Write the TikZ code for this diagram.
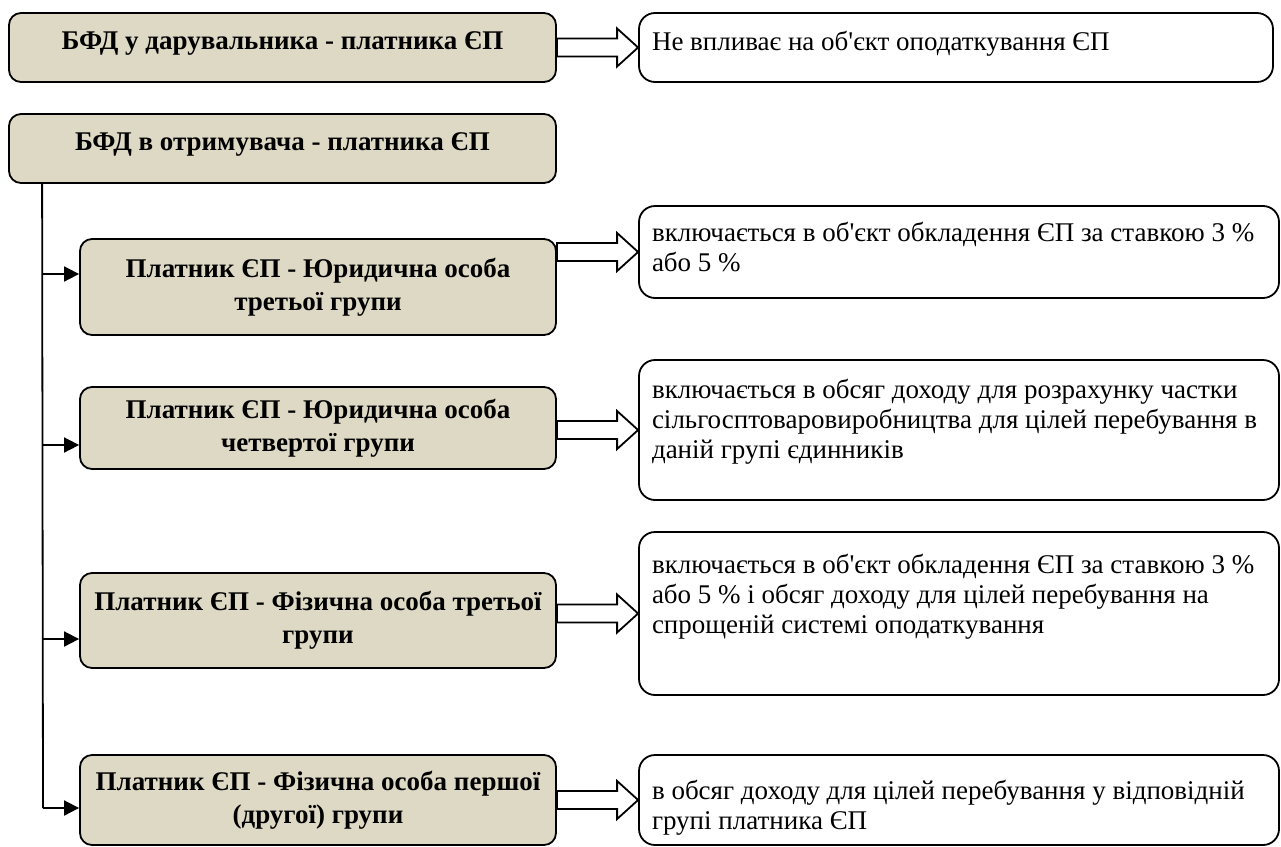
\documentclass[tikz,border=0pt]{standalone}
\usepackage{fontspec}
\setmainfont{Liberation Serif}
\usetikzlibrary{positioning, arrows.meta, calc}

\definecolor{boxtan}{HTML}{DDD9C4}

% hollow block arrow between two points on the same level
\newcommand{\hollow}[2]{%
  \draw[harrow] ($(#1)+(0,9)$) -- ($(#2)+(-21,9)$) -- ($(#2)+(-21,19)$) -- (#2)
    -- ($(#2)+(-21,-19)$) -- ($(#2)+(-21,-9)$) -- ($(#1)+(0,-9)$) -- cycle;}

\begin{document}
\begin{tikzpicture}[x=1pt, y=-1pt,
    lbox/.style={draw, line width=1.8pt, rounded corners=12pt, fill=boxtan, inner sep=0pt,
      align=flush center, font=\fontsize{27}{33}\selectfont\bfseries},
    rbox/.style={draw, line width=1.8pt, rounded corners=16pt, fill=white, inner xsep=13pt,
      inner ysep=0pt, align=flush left, font=\fontsize{27}{30}\selectfont},
    harrow/.style={line width=1.8pt, fill=white, line join=miter},
    feed/.style={line width=1.8pt, -{Triangle[length=15pt,width=15pt]}}]
    \useasboundingbox (0,0) rectangle (1281,846);

    % Donor
    \node[lbox, minimum width=547pt, minimum height=69pt, text height=18pt, text depth=15pt] (b1) at (282.5,47.5) {БФД у дарувальника - платника ЄП};
    \node[rbox, text width=608pt, text height=37pt, text depth=32pt] (r1) at (956,47.5) {Не впливає на об\textquotesingle єкт оподаткування ЄП};
    \coordinate (h1) at (b1.east |- r1.west);
    \hollow{h1}{r1.west}

    % Recipient
    \node[lbox, minimum width=547pt, minimum height=69pt, text height=18pt, text depth=15pt] (b2) at (282.5,148.5) {БФД в отримувача - платника ЄП};

    % Groups
    \node[lbox, minimum width=476pt, minimum height=96pt] (b3) at (318,287) {Платник ЄП - Юридична особа\\третьої групи};
    \node[lbox, minimum width=476pt, minimum height=82pt] (b4) at (318,428) {Платник ЄП - Юридична особа\\четвертої групи};
    \node[lbox, minimum width=476pt, minimum height=95pt] (b5) at (318,620.5) {Платник ЄП - Фізична особа третьої\\групи};
    \node[lbox, minimum width=476pt, minimum height=90pt] (b6) at (318,800) {Платник ЄП - Фізична особа першої\\(другої) групи};

    % Results
    \node[rbox, text width=614pt, text height=35pt, text depth=57pt] (r3) at (959,252) {включається в об\textquotesingle єкт обкладення ЄП за ставкою 3~\%\\або 5~\%};
    \node[rbox, text width=614pt, text height=38pt, text depth=102pt] (r4) at (959,430) {включається в обсяг доходу для розрахунку частки\\сільгосптоваровиробництва для цілей перебування в\\даній групі єдинників};
    \node[rbox, text width=614pt, text height=41pt, text depth=122pt] (r5) at (959,613.5) {включається в об\textquotesingle єкт обкладення ЄП за ставкою 3~\%\\або 5~\% і обсяг доходу для цілей перебування на\\спрощеній системі оподаткування};
    \node[rbox, text width=614pt, text height=44pt, text depth=46pt] (r6) at (959,800) {в обсяг доходу для цілей перебування у відповідній\\групі платника ЄП};

    % Trunk
    \coordinate (top) at ($(b2.south west)+(34,0)$);
    \coordinate (t3) at (43,274);
    \coordinate (t4) at (43,445);
    \coordinate (t5) at (43,639);
    \coordinate (t6) at (43,808);
    \draw[line width=1.8pt] (top) -- (t6);
    \draw[feed] (t3) -- (t3 -| b3.west);
    \draw[feed] (t4) -- (t4 -| b4.west);
    \draw[feed] (t5) -- (t5 -| b5.west);
    \draw[feed] (t6) -- (t6 -| b6.west);

    % Block arrows
    \coordinate (h3) at (b3.east |- r3.west);
    \coordinate (h4) at (b4.east |- r4.west);
    \coordinate (h5) at (b5.east |- r5.west);
    \coordinate (h6) at (b6.east |- r6.west);
    \hollow{h3}{r3.west}
    \hollow{h4}{r4.west}
    \hollow{h5}{r5.west}
    \hollow{h6}{r6.west}
\end{tikzpicture}
\end{document}
